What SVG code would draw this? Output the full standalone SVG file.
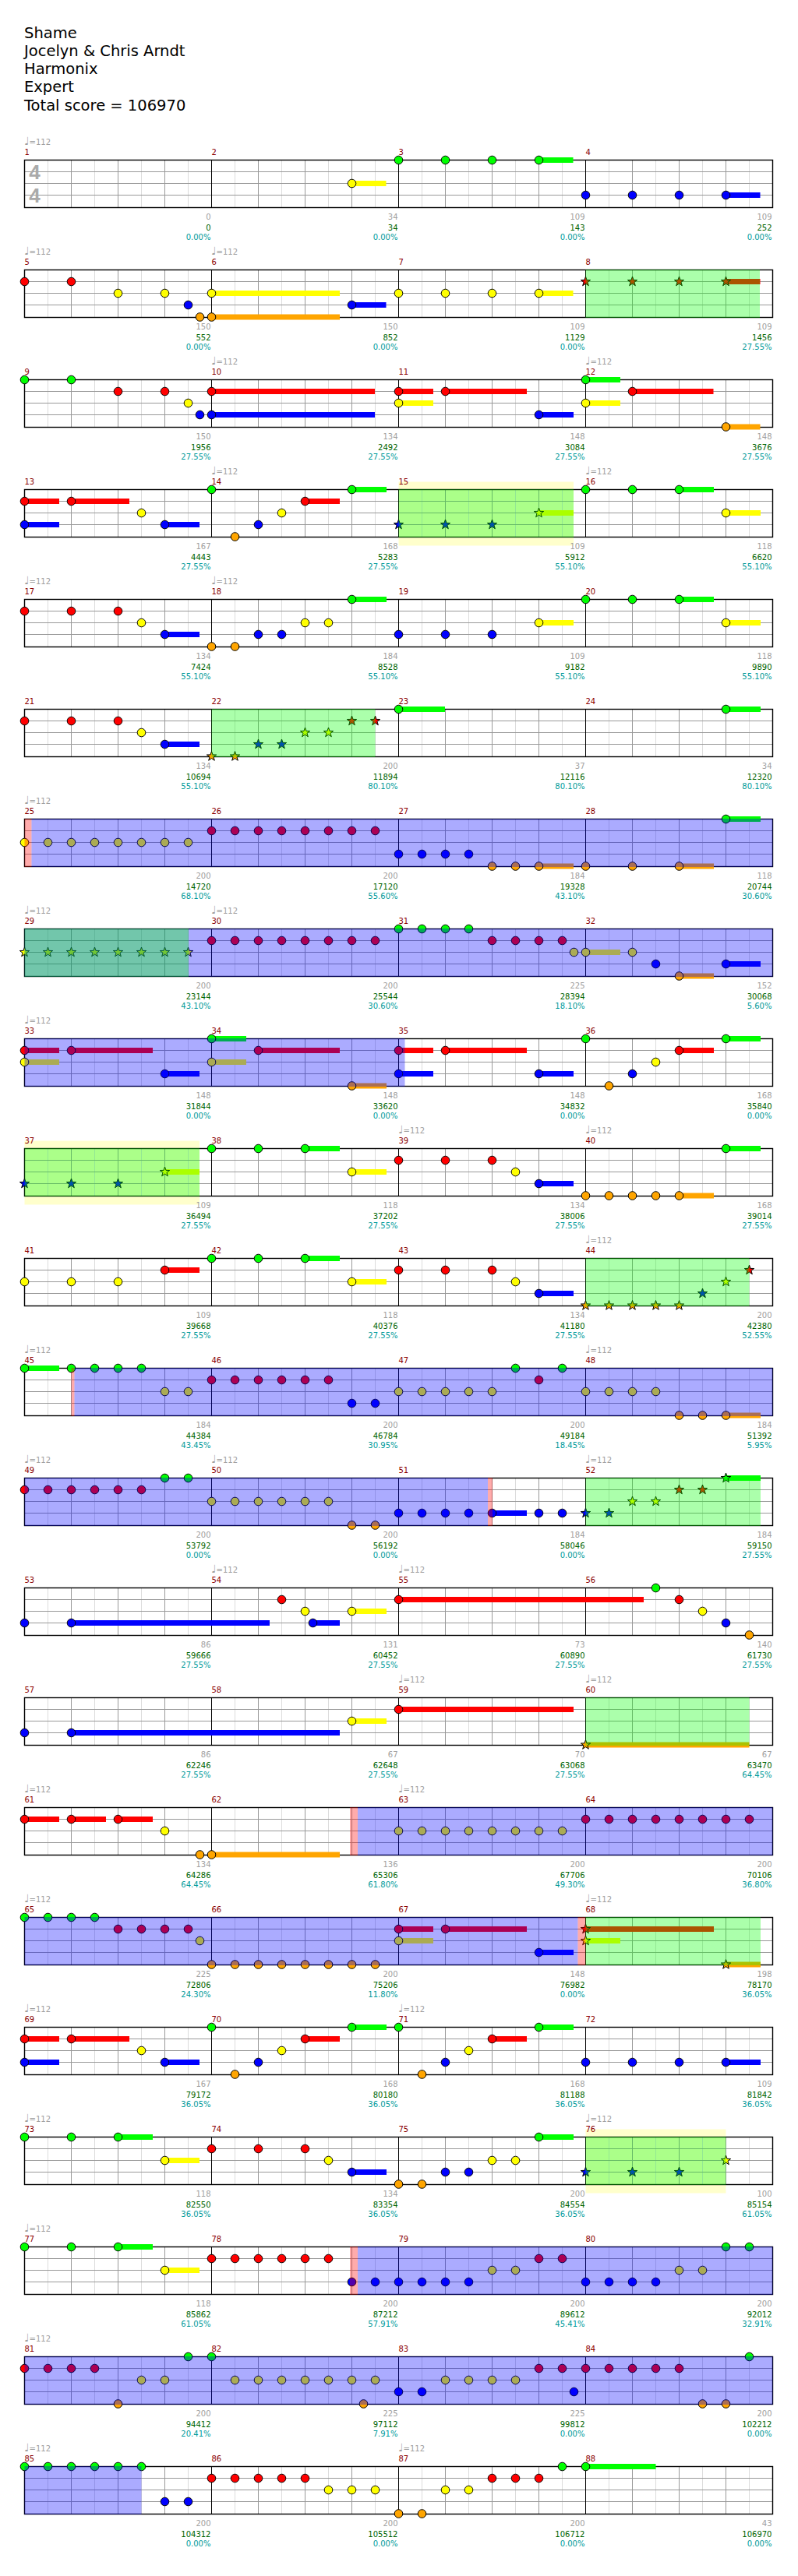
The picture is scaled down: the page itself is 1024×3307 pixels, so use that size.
<svg xmlns="http://www.w3.org/2000/svg" width="1024" height="3307" viewBox="0 0 1024 3307">
<style>
.ttl{font:19.5px "DejaVu Sans",sans-serif;fill:#000}
.mn{font:10px "DejaVu Sans",sans-serif;fill:#8b0000}
.tp{font:10px "DejaVu Sans",sans-serif;fill:#a0a0a0}
.nt{font-size:14px}
.st{font:10px "DejaVu Sans",sans-serif;text-anchor:end}
.c1{fill:#a0a0a0}.c2{fill:#006400}.c3{fill:#009a9a}
.ts{font:bold 26px "Liberation Sans",sans-serif;fill:#aaa;text-anchor:middle}
.n{stroke:#000;stroke-width:1}
.lt{stroke:#dcdcdc;stroke-width:1;fill:none}
.bt{stroke:#999;stroke-width:1;fill:none}
.ms{stroke:#000;stroke-width:1;fill:none}
.bd{stroke:#000;stroke-width:1.4;fill:none}
.bG{fill:#00ff00}.bR{fill:#ff0000}.bY{fill:#ffff00}.bB{fill:#0000ff}.bO{fill:#ffa500}
.og{fill:#00ff00;fill-opacity:.33}.ob{fill:#0000ff;fill-opacity:.33}.or{fill:#ff0000;fill-opacity:.33}.oy{fill:#ffff00;fill-opacity:.2}
</style>
<defs>
<circle id="G" class="n" r="5.3" fill="#00ff00"/>
<circle id="R" class="n" r="5.3" fill="#ff0000"/>
<circle id="Y" class="n" r="5.3" fill="#ffff00"/>
<circle id="B" class="n" r="5.3" fill="#0000ff"/>
<circle id="O" class="n" r="5.3" fill="#ffa500"/>
<path id="sG" class="n" fill="#00ff00" d="M0,-6.5L1.53,-2.1 6.18,-2.01 2.47,0.8 3.82,5.26 0,2.6 -3.82,5.26 -2.47,0.8 -6.18,-2.01 -1.53,-2.1Z"/>
<path id="sR" class="n" fill="#ff0000" d="M0,-6.5L1.53,-2.1 6.18,-2.01 2.47,0.8 3.82,5.26 0,2.6 -3.82,5.26 -2.47,0.8 -6.18,-2.01 -1.53,-2.1Z"/>
<path id="sY" class="n" fill="#ffff00" d="M0,-6.5L1.53,-2.1 6.18,-2.01 2.47,0.8 3.82,5.26 0,2.6 -3.82,5.26 -2.47,0.8 -6.18,-2.01 -1.53,-2.1Z"/>
<path id="sB" class="n" fill="#0000ff" d="M0,-6.5L1.53,-2.1 6.18,-2.01 2.47,0.8 3.82,5.26 0,2.6 -3.82,5.26 -2.47,0.8 -6.18,-2.01 -1.53,-2.1Z"/>
<path id="sO" class="n" fill="#ffa500" d="M0,-6.5L1.53,-2.1 6.18,-2.01 2.47,0.8 3.82,5.26 0,2.6 -3.82,5.26 -2.47,0.8 -6.18,-2.01 -1.53,-2.1Z"/>
<g id="grid">
<path class="lt" d="M61.5 0V61M121.5 0V61M181.5 0V61M241.5 0V61M301.5 0V61M361.5 0V61M421.5 0V61M481.5 0V61M541.5 0V61M601.5 0V61M661.5 0V61M721.5 0V61M781.5 0V61M841.5 0V61M901.5 0V61M961.5 0V61"/>
<path class="bt" d="M91.5 0V61M151.5 0V61M211.5 0V61M331.5 0V61M391.5 0V61M451.5 0V61M571.5 0V61M631.5 0V61M691.5 0V61M811.5 0V61M871.5 0V61M931.5 0V61M31.5 15H991.5M31.5 30H991.5M31.5 45H991.5"/>
<path class="ms" d="M271.5 0V61M511.5 0V61M751.5 0V61"/>
<rect class="bd" x="31.5" y="0" width="960" height="61"/>
</g>
</defs>
<rect width="1024" height="3307" fill="#fff"/>
<g id="header">
<text class="ttl" x="31" y="49">Shame</text>
<text class="ttl" x="31" y="72">Jocelyn &amp; Chris Arndt</text>
<text class="ttl" x="31" y="95">Harmonix</text>
<text class="ttl" x="31" y="118">Expert</text>
<text class="ttl" x="31" y="141.5">Total score = 106970</text>
</g>

<g id="row1" transform="translate(0,205.5)">
<use href="#grid"/>
<text class="ts" x="44.5" y="24.5">4</text><text class="ts" x="44.5" y="54.5">4</text>
<rect class="bY" x="451.5" y="26.5" width="44" height="7"/><rect class="bG" x="691.5" y="-3.5" width="44" height="7"/><rect class="bB" x="931.5" y="41.5" width="44" height="7"/>
<use href="#Y" x="451.5" y="30"/>
<use href="#G" x="511.5" y="0"/><use href="#G" x="571.5" y="0"/><use href="#G" x="631.5" y="0"/><use href="#G" x="691.5" y="0"/>
<use href="#B" x="751.5" y="45"/><use href="#B" x="811.5" y="45"/><use href="#B" x="871.5" y="45"/><use href="#B" x="931.5" y="45"/>
<text class="tp" x="31" y="-20"><tspan class="nt">♩</tspan>=112</text>
<text class="mn" x="31.5" y="-7">1</text><text class="mn" x="271.5" y="-7">2</text><text class="mn" x="511.5" y="-7">3</text><text class="mn" x="751.5" y="-7">4</text>
<text class="st" x="270.5" y="76.5"><tspan class="c1">0</tspan><tspan class="c2" x="270.5" y="90">0</tspan><tspan class="c3" x="270.5" y="102.5">0.00%</tspan></text>
<text class="st" x="510.5" y="76.5"><tspan class="c1">34</tspan><tspan class="c2" x="510.5" y="90">34</tspan><tspan class="c3" x="510.5" y="102.5">0.00%</tspan></text>
<text class="st" x="750.5" y="76.5"><tspan class="c1">109</tspan><tspan class="c2" x="750.5" y="90">143</tspan><tspan class="c3" x="750.5" y="102.5">0.00%</tspan></text>
<text class="st" x="990.5" y="76.5"><tspan class="c1">109</tspan><tspan class="c2" x="990.5" y="90">252</tspan><tspan class="c3" x="990.5" y="102.5">0.00%</tspan></text>
</g>

<g id="row2" transform="translate(0,346.5)">
<use href="#grid"/>
<rect class="bY" x="271.5" y="26.5" width="164.5" height="7"/><rect class="bO" x="271.5" y="57" width="164.5" height="7"/><rect class="bB" x="451.5" y="41.5" width="44" height="7"/><rect class="bY" x="691.5" y="26.5" width="44" height="7"/><rect class="bR" x="931.5" y="11.5" width="44" height="7"/>
<use href="#R" x="31.5" y="15"/><use href="#R" x="91.5" y="15"/><use href="#Y" x="151.5" y="30"/><use href="#Y" x="211.5" y="30"/><use href="#B" x="241.5" y="45"/><use href="#O" x="256.5" y="60.5"/>
<use href="#Y" x="271.5" y="30"/><use href="#O" x="271.5" y="60.5"/><use href="#B" x="451.5" y="45"/>
<use href="#Y" x="511.5" y="30"/><use href="#Y" x="571.5" y="30"/><use href="#Y" x="631.5" y="30"/><use href="#Y" x="691.5" y="30"/>
<use href="#sR" x="751.5" y="15"/><use href="#sR" x="811.5" y="15"/><use href="#sR" x="871.5" y="15"/><use href="#sR" x="931.5" y="15"/>
<rect class="og" x="751.5" y="-0.5" width="223.5" height="62"/>
<text class="tp" x="31" y="-20"><tspan class="nt">♩</tspan>=112</text><text class="tp" x="271" y="-20"><tspan class="nt">♩</tspan>=112</text>
<text class="mn" x="31.5" y="-7">5</text><text class="mn" x="271.5" y="-7">6</text><text class="mn" x="511.5" y="-7">7</text><text class="mn" x="751.5" y="-7">8</text>
<text class="st" x="270.5" y="76.5"><tspan class="c1">150</tspan><tspan class="c2" x="270.5" y="90">552</tspan><tspan class="c3" x="270.5" y="102.5">0.00%</tspan></text>
<text class="st" x="510.5" y="76.5"><tspan class="c1">150</tspan><tspan class="c2" x="510.5" y="90">852</tspan><tspan class="c3" x="510.5" y="102.5">0.00%</tspan></text>
<text class="st" x="750.5" y="76.5"><tspan class="c1">109</tspan><tspan class="c2" x="750.5" y="90">1129</tspan><tspan class="c3" x="750.5" y="102.5">0.00%</tspan></text>
<text class="st" x="990.5" y="76.5"><tspan class="c1">109</tspan><tspan class="c2" x="990.5" y="90">1456</tspan><tspan class="c3" x="990.5" y="102.5">27.55%</tspan></text>
</g>

<g id="row3" transform="translate(0,487.5)">
<use href="#grid"/>
<rect class="bR" x="271.5" y="11.5" width="209.5" height="7"/><rect class="bB" x="271.5" y="41.5" width="209.5" height="7"/><rect class="bR" x="511.5" y="11.5" width="44.5" height="7"/><rect class="bY" x="511.5" y="26.5" width="44.5" height="7"/><rect class="bR" x="571.5" y="11.5" width="104.5" height="7"/><rect class="bB" x="691.5" y="41.5" width="44.5" height="7"/><rect class="bG" x="751.5" y="-3.5" width="44.5" height="7"/><rect class="bY" x="751.5" y="26.5" width="44.5" height="7"/><rect class="bR" x="811.5" y="11.5" width="104" height="7"/><rect class="bO" x="931.5" y="57" width="44" height="7"/>
<use href="#G" x="31.5" y="0"/><use href="#G" x="91.5" y="0"/><use href="#R" x="151.5" y="15"/><use href="#R" x="211.5" y="15"/><use href="#Y" x="241.5" y="30"/><use href="#B" x="256.5" y="45"/>
<use href="#R" x="271.5" y="15"/><use href="#B" x="271.5" y="45"/>
<use href="#R" x="511.5" y="15"/><use href="#Y" x="511.5" y="30"/><use href="#R" x="571.5" y="15"/><use href="#B" x="691.5" y="45"/>
<use href="#G" x="751.5" y="0"/><use href="#Y" x="751.5" y="30"/><use href="#R" x="811.5" y="15"/><use href="#O" x="931.5" y="60.5"/>
<text class="tp" x="271" y="-20"><tspan class="nt">♩</tspan>=112</text><text class="tp" x="751" y="-20"><tspan class="nt">♩</tspan>=112</text>
<text class="mn" x="31.5" y="-7">9</text><text class="mn" x="271.5" y="-7">10</text><text class="mn" x="511.5" y="-7">11</text><text class="mn" x="751.5" y="-7">12</text>
<text class="st" x="270.5" y="76.5"><tspan class="c1">150</tspan><tspan class="c2" x="270.5" y="90">1956</tspan><tspan class="c3" x="270.5" y="102.5">27.55%</tspan></text>
<text class="st" x="510.5" y="76.5"><tspan class="c1">134</tspan><tspan class="c2" x="510.5" y="90">2492</tspan><tspan class="c3" x="510.5" y="102.5">27.55%</tspan></text>
<text class="st" x="750.5" y="76.5"><tspan class="c1">148</tspan><tspan class="c2" x="750.5" y="90">3084</tspan><tspan class="c3" x="750.5" y="102.5">27.55%</tspan></text>
<text class="st" x="990.5" y="76.5"><tspan class="c1">148</tspan><tspan class="c2" x="990.5" y="90">3676</tspan><tspan class="c3" x="990.5" y="102.5">27.55%</tspan></text>
</g>

<g id="row4" transform="translate(0,628.5)">
<rect class="oy" x="511.5" y="-10" width="224.5" height="82"/>
<use href="#grid"/>
<rect class="bR" x="31.5" y="11.5" width="44.5" height="7"/><rect class="bB" x="31.5" y="41.5" width="44.5" height="7"/><rect class="bR" x="91.5" y="11.5" width="74.5" height="7"/><rect class="bB" x="211.5" y="41.5" width="44.5" height="7"/><rect class="bR" x="391.5" y="11.5" width="44.5" height="7"/><rect class="bG" x="451.5" y="-3.5" width="44.5" height="7"/><rect class="bY" x="691.5" y="26.5" width="44.5" height="7"/><rect class="bG" x="871.5" y="-3.5" width="44.5" height="7"/><rect class="bY" x="931.5" y="26.5" width="44.5" height="7"/>
<use href="#R" x="31.5" y="15"/><use href="#B" x="31.5" y="45"/><use href="#R" x="91.5" y="15"/><use href="#Y" x="181.5" y="30"/><use href="#B" x="211.5" y="45"/>
<use href="#G" x="271.5" y="0"/><use href="#O" x="301.5" y="60.5"/><use href="#B" x="331.5" y="45"/><use href="#Y" x="361.5" y="30"/><use href="#R" x="391.5" y="15"/><use href="#G" x="451.5" y="0"/>
<use href="#sB" x="511.5" y="45"/><use href="#sB" x="571.5" y="45"/><use href="#sB" x="631.5" y="45"/><use href="#sY" x="691.5" y="30"/>
<use href="#G" x="751.5" y="0"/><use href="#G" x="811.5" y="0"/><use href="#G" x="871.5" y="0"/><use href="#Y" x="931.5" y="30"/>
<rect class="og" x="511.5" y="-0.5" width="224.5" height="62"/>
<text class="tp" x="271" y="-20"><tspan class="nt">♩</tspan>=112</text><text class="tp" x="751" y="-20"><tspan class="nt">♩</tspan>=112</text>
<text class="mn" x="31.5" y="-7">13</text><text class="mn" x="271.5" y="-7">14</text><text class="mn" x="511.5" y="-7">15</text><text class="mn" x="751.5" y="-7">16</text>
<text class="st" x="270.5" y="76.5"><tspan class="c1">167</tspan><tspan class="c2" x="270.5" y="90">4443</tspan><tspan class="c3" x="270.5" y="102.5">27.55%</tspan></text>
<text class="st" x="510.5" y="76.5"><tspan class="c1">168</tspan><tspan class="c2" x="510.5" y="90">5283</tspan><tspan class="c3" x="510.5" y="102.5">27.55%</tspan></text>
<text class="st" x="750.5" y="76.5"><tspan class="c1">109</tspan><tspan class="c2" x="750.5" y="90">5912</tspan><tspan class="c3" x="750.5" y="102.5">55.10%</tspan></text>
<text class="st" x="990.5" y="76.5"><tspan class="c1">118</tspan><tspan class="c2" x="990.5" y="90">6620</tspan><tspan class="c3" x="990.5" y="102.5">55.10%</tspan></text>
</g>

<g id="row5" transform="translate(0,769.5)">
<use href="#grid"/>
<rect class="bB" x="211.5" y="41.5" width="44.5" height="7"/><rect class="bG" x="451.5" y="-3.5" width="44.5" height="7"/><rect class="bY" x="691.5" y="26.5" width="44.5" height="7"/><rect class="bG" x="871.5" y="-3.5" width="44.5" height="7"/><rect class="bY" x="931.5" y="26.5" width="44.5" height="7"/>
<use href="#R" x="31.5" y="15"/><use href="#R" x="91.5" y="15"/><use href="#R" x="151.5" y="15"/><use href="#Y" x="181.5" y="30"/><use href="#B" x="211.5" y="45"/>
<use href="#O" x="271.5" y="60.5"/><use href="#O" x="301.5" y="60.5"/><use href="#B" x="331.5" y="45"/><use href="#B" x="361.5" y="45"/><use href="#Y" x="391.5" y="30"/><use href="#Y" x="421.5" y="30"/><use href="#G" x="451.5" y="0"/>
<use href="#B" x="511.5" y="45"/><use href="#B" x="571.5" y="45"/><use href="#B" x="631.5" y="45"/><use href="#Y" x="691.5" y="30"/>
<use href="#G" x="751.5" y="0"/><use href="#G" x="811.5" y="0"/><use href="#G" x="871.5" y="0"/><use href="#Y" x="931.5" y="30"/>
<text class="tp" x="31" y="-20"><tspan class="nt">♩</tspan>=112</text><text class="tp" x="271" y="-20"><tspan class="nt">♩</tspan>=112</text>
<text class="mn" x="31.5" y="-7">17</text><text class="mn" x="271.5" y="-7">18</text><text class="mn" x="511.5" y="-7">19</text><text class="mn" x="751.5" y="-7">20</text>
<text class="st" x="270.5" y="76.5"><tspan class="c1">134</tspan><tspan class="c2" x="270.5" y="90">7424</tspan><tspan class="c3" x="270.5" y="102.5">55.10%</tspan></text>
<text class="st" x="510.5" y="76.5"><tspan class="c1">184</tspan><tspan class="c2" x="510.5" y="90">8528</tspan><tspan class="c3" x="510.5" y="102.5">55.10%</tspan></text>
<text class="st" x="750.5" y="76.5"><tspan class="c1">109</tspan><tspan class="c2" x="750.5" y="90">9182</tspan><tspan class="c3" x="750.5" y="102.5">55.10%</tspan></text>
<text class="st" x="990.5" y="76.5"><tspan class="c1">118</tspan><tspan class="c2" x="990.5" y="90">9890</tspan><tspan class="c3" x="990.5" y="102.5">55.10%</tspan></text>
</g>

<g id="row6" transform="translate(0,910.5)">
<use href="#grid"/>
<rect class="bB" x="211.5" y="41.5" width="44.5" height="7"/><rect class="bG" x="511.5" y="-3.5" width="59.5" height="7"/><rect class="bG" x="931.5" y="-3.5" width="44.5" height="7"/>
<use href="#R" x="31.5" y="15"/><use href="#R" x="91.5" y="15"/><use href="#R" x="151.5" y="15"/><use href="#Y" x="181.5" y="30"/><use href="#B" x="211.5" y="45"/>
<use href="#sO" x="271.5" y="60.5"/><use href="#sO" x="301.5" y="60.5"/><use href="#sB" x="331.5" y="45"/><use href="#sB" x="361.5" y="45"/><use href="#sY" x="391.5" y="30"/><use href="#sY" x="421.5" y="30"/><use href="#sR" x="451.5" y="15"/><use href="#sR" x="481.5" y="15"/>
<use href="#G" x="511.5" y="0"/><use href="#G" x="931.5" y="0"/>
<rect class="og" x="271.5" y="-0.5" width="210" height="62"/>
<text class="mn" x="31.5" y="-7">21</text><text class="mn" x="271.5" y="-7">22</text><text class="mn" x="511.5" y="-7">23</text><text class="mn" x="751.5" y="-7">24</text>
<text class="st" x="270.5" y="76.5"><tspan class="c1">134</tspan><tspan class="c2" x="270.5" y="90">10694</tspan><tspan class="c3" x="270.5" y="102.5">55.10%</tspan></text>
<text class="st" x="510.5" y="76.5"><tspan class="c1">200</tspan><tspan class="c2" x="510.5" y="90">11894</tspan><tspan class="c3" x="510.5" y="102.5">80.10%</tspan></text>
<text class="st" x="750.5" y="76.5"><tspan class="c1">37</tspan><tspan class="c2" x="750.5" y="90">12116</tspan><tspan class="c3" x="750.5" y="102.5">80.10%</tspan></text>
<text class="st" x="990.5" y="76.5"><tspan class="c1">34</tspan><tspan class="c2" x="990.5" y="90">12320</tspan><tspan class="c3" x="990.5" y="102.5">80.10%</tspan></text>
</g>

<g id="row7" transform="translate(0,1051.5)">
<use href="#grid"/>
<rect class="bO" x="691.5" y="57" width="44.5" height="7"/><rect class="bO" x="871.5" y="57" width="44.5" height="7"/><rect class="bG" x="931.5" y="-3.5" width="44.5" height="7"/>
<use href="#Y" x="31.5" y="30"/><use href="#Y" x="61.5" y="30"/><use href="#Y" x="91.5" y="30"/><use href="#Y" x="121.5" y="30"/><use href="#Y" x="151.5" y="30"/><use href="#Y" x="181.5" y="30"/><use href="#Y" x="211.5" y="30"/><use href="#Y" x="241.5" y="30"/>
<use href="#R" x="271.5" y="15"/><use href="#R" x="301.5" y="15"/><use href="#R" x="331.5" y="15"/><use href="#R" x="361.5" y="15"/><use href="#R" x="391.5" y="15"/><use href="#R" x="421.5" y="15"/><use href="#R" x="451.5" y="15"/><use href="#R" x="481.5" y="15"/>
<use href="#B" x="511.5" y="45"/><use href="#B" x="541.5" y="45"/><use href="#B" x="571.5" y="45"/><use href="#B" x="601.5" y="45"/><use href="#O" x="631.5" y="60.5"/><use href="#O" x="661.5" y="60.5"/><use href="#O" x="691.5" y="60.5"/>
<use href="#O" x="751.5" y="60.5"/><use href="#O" x="811.5" y="60.5"/><use href="#O" x="871.5" y="60.5"/><use href="#G" x="931.5" y="0"/>
<rect class="or" x="31.5" y="-0.5" width="9" height="62"/><rect class="ob" x="40.5" y="-0.5" width="951" height="62"/>
<text class="tp" x="31" y="-20"><tspan class="nt">♩</tspan>=112</text>
<text class="mn" x="31.5" y="-7">25</text><text class="mn" x="271.5" y="-7">26</text><text class="mn" x="511.5" y="-7">27</text><text class="mn" x="751.5" y="-7">28</text>
<text class="st" x="270.5" y="76.5"><tspan class="c1">200</tspan><tspan class="c2" x="270.5" y="90">14720</tspan><tspan class="c3" x="270.5" y="102.5">68.10%</tspan></text>
<text class="st" x="510.5" y="76.5"><tspan class="c1">200</tspan><tspan class="c2" x="510.5" y="90">17120</tspan><tspan class="c3" x="510.5" y="102.5">55.60%</tspan></text>
<text class="st" x="750.5" y="76.5"><tspan class="c1">184</tspan><tspan class="c2" x="750.5" y="90">19328</tspan><tspan class="c3" x="750.5" y="102.5">43.10%</tspan></text>
<text class="st" x="990.5" y="76.5"><tspan class="c1">118</tspan><tspan class="c2" x="990.5" y="90">20744</tspan><tspan class="c3" x="990.5" y="102.5">30.60%</tspan></text>
</g>

<g id="row8" transform="translate(0,1192.5)">
<use href="#grid"/>
<rect class="bY" x="751.5" y="26.5" width="44.5" height="7"/><rect class="bO" x="871.5" y="57" width="44.5" height="7"/><rect class="bB" x="931.5" y="41.5" width="44.5" height="7"/>
<use href="#sY" x="31.5" y="30"/><use href="#sY" x="61.5" y="30"/><use href="#sY" x="91.5" y="30"/><use href="#sY" x="121.5" y="30"/><use href="#sY" x="151.5" y="30"/><use href="#sY" x="181.5" y="30"/><use href="#sY" x="211.5" y="30"/><use href="#sY" x="241.5" y="30"/>
<use href="#R" x="271.5" y="15"/><use href="#R" x="301.5" y="15"/><use href="#R" x="331.5" y="15"/><use href="#R" x="361.5" y="15"/><use href="#R" x="391.5" y="15"/><use href="#R" x="421.5" y="15"/><use href="#R" x="451.5" y="15"/><use href="#R" x="481.5" y="15"/>
<use href="#G" x="511.5" y="0"/><use href="#G" x="541.5" y="0"/><use href="#G" x="571.5" y="0"/><use href="#G" x="601.5" y="0"/><use href="#R" x="631.5" y="15"/><use href="#R" x="661.5" y="15"/><use href="#R" x="691.5" y="15"/><use href="#R" x="721.5" y="15"/><use href="#Y" x="736.5" y="30"/>
<use href="#Y" x="751.5" y="30"/><use href="#Y" x="811.5" y="30"/><use href="#B" x="841.5" y="45"/><use href="#O" x="871.5" y="60.5"/><use href="#B" x="931.5" y="45"/>
<rect class="ob" x="31.5" y="-0.5" width="960" height="62"/><rect class="og" x="31.5" y="-0.5" width="210.5" height="62"/>
<text class="tp" x="31" y="-20"><tspan class="nt">♩</tspan>=112</text><text class="tp" x="271" y="-20"><tspan class="nt">♩</tspan>=112</text>
<text class="mn" x="31.5" y="-7">29</text><text class="mn" x="271.5" y="-7">30</text><text class="mn" x="511.5" y="-7">31</text><text class="mn" x="751.5" y="-7">32</text>
<text class="st" x="270.5" y="76.5"><tspan class="c1">200</tspan><tspan class="c2" x="270.5" y="90">23144</tspan><tspan class="c3" x="270.5" y="102.5">43.10%</tspan></text>
<text class="st" x="510.5" y="76.5"><tspan class="c1">200</tspan><tspan class="c2" x="510.5" y="90">25544</tspan><tspan class="c3" x="510.5" y="102.5">30.60%</tspan></text>
<text class="st" x="750.5" y="76.5"><tspan class="c1">225</tspan><tspan class="c2" x="750.5" y="90">28394</tspan><tspan class="c3" x="750.5" y="102.5">18.10%</tspan></text>
<text class="st" x="990.5" y="76.5"><tspan class="c1">152</tspan><tspan class="c2" x="990.5" y="90">30068</tspan><tspan class="c3" x="990.5" y="102.5">5.60%</tspan></text>
</g>

<g id="row9" transform="translate(0,1333.5)">
<use href="#grid"/>
<rect class="bR" x="31.5" y="11.5" width="44.5" height="7"/><rect class="bY" x="31.5" y="26.5" width="44.5" height="7"/><rect class="bR" x="91.5" y="11.5" width="104.5" height="7"/><rect class="bB" x="211.5" y="41.5" width="44.5" height="7"/><rect class="bG" x="271.5" y="-3.5" width="44.5" height="7"/><rect class="bY" x="271.5" y="26.5" width="44.5" height="7"/><rect class="bR" x="331.5" y="11.5" width="104.5" height="7"/><rect class="bO" x="451.5" y="57" width="44.5" height="7"/><rect class="bR" x="511.5" y="11.5" width="44.5" height="7"/><rect class="bB" x="511.5" y="41.5" width="44.5" height="7"/><rect class="bR" x="571.5" y="11.5" width="104.5" height="7"/><rect class="bB" x="691.5" y="41.5" width="44.5" height="7"/><rect class="bR" x="871.5" y="11.5" width="44.5" height="7"/><rect class="bG" x="931.5" y="-3.5" width="44.5" height="7"/>
<use href="#R" x="31.5" y="15"/><use href="#Y" x="31.5" y="30"/><use href="#R" x="91.5" y="15"/><use href="#B" x="211.5" y="45"/>
<use href="#G" x="271.5" y="0"/><use href="#Y" x="271.5" y="30"/><use href="#R" x="331.5" y="15"/><use href="#O" x="451.5" y="60.5"/>
<use href="#R" x="511.5" y="15"/><use href="#B" x="511.5" y="45"/><use href="#R" x="571.5" y="15"/><use href="#B" x="691.5" y="45"/>
<use href="#G" x="751.5" y="0"/><use href="#O" x="781.5" y="60.5"/><use href="#B" x="811.5" y="45"/><use href="#Y" x="841.5" y="30"/><use href="#R" x="871.5" y="15"/><use href="#G" x="931.5" y="0"/>
<rect class="ob" x="31.5" y="-0.5" width="488" height="62"/>
<text class="tp" x="31" y="-20"><tspan class="nt">♩</tspan>=112</text>
<text class="mn" x="31.5" y="-7">33</text><text class="mn" x="271.5" y="-7">34</text><text class="mn" x="511.5" y="-7">35</text><text class="mn" x="751.5" y="-7">36</text>
<text class="st" x="270.5" y="76.5"><tspan class="c1">148</tspan><tspan class="c2" x="270.5" y="90">31844</tspan><tspan class="c3" x="270.5" y="102.5">0.00%</tspan></text>
<text class="st" x="510.5" y="76.5"><tspan class="c1">148</tspan><tspan class="c2" x="510.5" y="90">33620</tspan><tspan class="c3" x="510.5" y="102.5">0.00%</tspan></text>
<text class="st" x="750.5" y="76.5"><tspan class="c1">148</tspan><tspan class="c2" x="750.5" y="90">34832</tspan><tspan class="c3" x="750.5" y="102.5">0.00%</tspan></text>
<text class="st" x="990.5" y="76.5"><tspan class="c1">168</tspan><tspan class="c2" x="990.5" y="90">35840</tspan><tspan class="c3" x="990.5" y="102.5">0.00%</tspan></text>
</g>

<g id="row10" transform="translate(0,1474.5)">
<rect class="oy" x="31.5" y="-10" width="224.5" height="82"/>
<use href="#grid"/>
<rect class="bY" x="211.5" y="26.5" width="44.5" height="7"/><rect class="bG" x="391.5" y="-3.5" width="44.5" height="7"/><rect class="bY" x="451.5" y="26.5" width="44.5" height="7"/><rect class="bB" x="691.5" y="41.5" width="44.5" height="7"/><rect class="bO" x="871.5" y="57" width="44.5" height="7"/><rect class="bG" x="931.5" y="-3.5" width="44.5" height="7"/>
<use href="#sB" x="31.5" y="45"/><use href="#sB" x="91.5" y="45"/><use href="#sB" x="151.5" y="45"/><use href="#sY" x="211.5" y="30"/>
<use href="#G" x="271.5" y="0"/><use href="#G" x="331.5" y="0"/><use href="#G" x="391.5" y="0"/><use href="#Y" x="451.5" y="30"/>
<use href="#R" x="511.5" y="15"/><use href="#R" x="571.5" y="15"/><use href="#R" x="631.5" y="15"/><use href="#Y" x="661.5" y="30"/><use href="#B" x="691.5" y="45"/>
<use href="#O" x="751.5" y="60.5"/><use href="#O" x="781.5" y="60.5"/><use href="#O" x="811.5" y="60.5"/><use href="#O" x="841.5" y="60.5"/><use href="#O" x="871.5" y="60.5"/><use href="#G" x="931.5" y="0"/>
<rect class="og" x="31.5" y="-0.5" width="224.5" height="62"/>
<text class="tp" x="511" y="-20"><tspan class="nt">♩</tspan>=112</text><text class="tp" x="751" y="-20"><tspan class="nt">♩</tspan>=112</text>
<text class="mn" x="31.5" y="-7">37</text><text class="mn" x="271.5" y="-7">38</text><text class="mn" x="511.5" y="-7">39</text><text class="mn" x="751.5" y="-7">40</text>
<text class="st" x="270.5" y="76.5"><tspan class="c1">109</tspan><tspan class="c2" x="270.5" y="90">36494</tspan><tspan class="c3" x="270.5" y="102.5">27.55%</tspan></text>
<text class="st" x="510.5" y="76.5"><tspan class="c1">118</tspan><tspan class="c2" x="510.5" y="90">37202</tspan><tspan class="c3" x="510.5" y="102.5">27.55%</tspan></text>
<text class="st" x="750.5" y="76.5"><tspan class="c1">134</tspan><tspan class="c2" x="750.5" y="90">38006</tspan><tspan class="c3" x="750.5" y="102.5">27.55%</tspan></text>
<text class="st" x="990.5" y="76.5"><tspan class="c1">168</tspan><tspan class="c2" x="990.5" y="90">39014</tspan><tspan class="c3" x="990.5" y="102.5">27.55%</tspan></text>
</g>

<g id="row11" transform="translate(0,1615.5)">
<use href="#grid"/>
<rect class="bR" x="211.5" y="11.5" width="44.5" height="7"/><rect class="bG" x="391.5" y="-3.5" width="44.5" height="7"/><rect class="bY" x="451.5" y="26.5" width="44.5" height="7"/><rect class="bB" x="691.5" y="41.5" width="44.5" height="7"/>
<use href="#Y" x="31.5" y="30"/><use href="#Y" x="91.5" y="30"/><use href="#Y" x="151.5" y="30"/><use href="#R" x="211.5" y="15"/>
<use href="#G" x="271.5" y="0"/><use href="#G" x="331.5" y="0"/><use href="#G" x="391.5" y="0"/><use href="#Y" x="451.5" y="30"/>
<use href="#R" x="511.5" y="15"/><use href="#R" x="571.5" y="15"/><use href="#R" x="631.5" y="15"/><use href="#Y" x="661.5" y="30"/><use href="#B" x="691.5" y="45"/>
<use href="#sO" x="751.5" y="60.5"/><use href="#sO" x="781.5" y="60.5"/><use href="#sO" x="811.5" y="60.5"/><use href="#sO" x="841.5" y="60.5"/><use href="#sO" x="871.5" y="60.5"/><use href="#sB" x="901.5" y="45"/><use href="#sY" x="931.5" y="30"/><use href="#sR" x="961.5" y="15"/>
<rect class="og" x="751.5" y="-0.5" width="210" height="62"/>
<text class="tp" x="751" y="-20"><tspan class="nt">♩</tspan>=112</text>
<text class="mn" x="31.5" y="-7">41</text><text class="mn" x="271.5" y="-7">42</text><text class="mn" x="511.5" y="-7">43</text><text class="mn" x="751.5" y="-7">44</text>
<text class="st" x="270.5" y="76.5"><tspan class="c1">109</tspan><tspan class="c2" x="270.5" y="90">39668</tspan><tspan class="c3" x="270.5" y="102.5">27.55%</tspan></text>
<text class="st" x="510.5" y="76.5"><tspan class="c1">118</tspan><tspan class="c2" x="510.5" y="90">40376</tspan><tspan class="c3" x="510.5" y="102.5">27.55%</tspan></text>
<text class="st" x="750.5" y="76.5"><tspan class="c1">134</tspan><tspan class="c2" x="750.5" y="90">41180</tspan><tspan class="c3" x="750.5" y="102.5">27.55%</tspan></text>
<text class="st" x="990.5" y="76.5"><tspan class="c1">200</tspan><tspan class="c2" x="990.5" y="90">42380</tspan><tspan class="c3" x="990.5" y="102.5">52.55%</tspan></text>
</g>

<g id="row12" transform="translate(0,1756.5)">
<use href="#grid"/>
<rect class="bG" x="31.5" y="-3.5" width="44.5" height="7"/><rect class="bO" x="931.5" y="57" width="44.5" height="7"/>
<use href="#G" x="31.5" y="0"/><use href="#G" x="91.5" y="0"/><use href="#G" x="121.5" y="0"/><use href="#G" x="151.5" y="0"/><use href="#G" x="181.5" y="0"/><use href="#Y" x="211.5" y="30"/><use href="#Y" x="241.5" y="30"/>
<use href="#R" x="271.5" y="15"/><use href="#R" x="301.5" y="15"/><use href="#R" x="331.5" y="15"/><use href="#R" x="361.5" y="15"/><use href="#R" x="391.5" y="15"/><use href="#R" x="421.5" y="15"/><use href="#B" x="451.5" y="45"/><use href="#B" x="481.5" y="45"/>
<use href="#Y" x="511.5" y="30"/><use href="#Y" x="541.5" y="30"/><use href="#Y" x="571.5" y="30"/><use href="#Y" x="601.5" y="30"/><use href="#Y" x="631.5" y="30"/><use href="#G" x="661.5" y="0"/><use href="#R" x="691.5" y="15"/><use href="#G" x="721.5" y="0"/>
<use href="#Y" x="751.5" y="30"/><use href="#Y" x="781.5" y="30"/><use href="#Y" x="811.5" y="30"/><use href="#Y" x="841.5" y="30"/><use href="#O" x="871.5" y="60.5"/><use href="#O" x="901.5" y="60.5"/><use href="#O" x="931.5" y="60.5"/>
<rect class="or" x="91.5" y="-0.5" width="4" height="62"/><rect class="ob" x="95.5" y="-0.5" width="896" height="62"/>
<text class="tp" x="31" y="-20"><tspan class="nt">♩</tspan>=112</text><text class="tp" x="751" y="-20"><tspan class="nt">♩</tspan>=112</text>
<text class="mn" x="31.5" y="-7">45</text><text class="mn" x="271.5" y="-7">46</text><text class="mn" x="511.5" y="-7">47</text><text class="mn" x="751.5" y="-7">48</text>
<text class="st" x="270.5" y="76.5"><tspan class="c1">184</tspan><tspan class="c2" x="270.5" y="90">44384</tspan><tspan class="c3" x="270.5" y="102.5">43.45%</tspan></text>
<text class="st" x="510.5" y="76.5"><tspan class="c1">200</tspan><tspan class="c2" x="510.5" y="90">46784</tspan><tspan class="c3" x="510.5" y="102.5">30.95%</tspan></text>
<text class="st" x="750.5" y="76.5"><tspan class="c1">200</tspan><tspan class="c2" x="750.5" y="90">49184</tspan><tspan class="c3" x="750.5" y="102.5">18.45%</tspan></text>
<text class="st" x="990.5" y="76.5"><tspan class="c1">184</tspan><tspan class="c2" x="990.5" y="90">51392</tspan><tspan class="c3" x="990.5" y="102.5">5.95%</tspan></text>
</g>

<g id="row13" transform="translate(0,1897.5)">
<use href="#grid"/>
<rect class="bB" x="631.5" y="41.5" width="44.5" height="7"/><rect class="bG" x="931.5" y="-3.5" width="44.5" height="7"/>
<use href="#R" x="31.5" y="15"/><use href="#R" x="61.5" y="15"/><use href="#R" x="91.5" y="15"/><use href="#R" x="121.5" y="15"/><use href="#R" x="151.5" y="15"/><use href="#R" x="181.5" y="15"/><use href="#G" x="211.5" y="0"/><use href="#G" x="241.5" y="0"/>
<use href="#Y" x="271.5" y="30"/><use href="#Y" x="301.5" y="30"/><use href="#Y" x="331.5" y="30"/><use href="#Y" x="361.5" y="30"/><use href="#Y" x="391.5" y="30"/><use href="#Y" x="421.5" y="30"/><use href="#O" x="451.5" y="60.5"/><use href="#O" x="481.5" y="60.5"/>
<use href="#B" x="511.5" y="45"/><use href="#B" x="541.5" y="45"/><use href="#B" x="571.5" y="45"/><use href="#B" x="601.5" y="45"/><use href="#B" x="631.5" y="45"/><use href="#B" x="691.5" y="45"/><use href="#B" x="721.5" y="45"/>
<use href="#sB" x="751.5" y="45"/><use href="#sB" x="781.5" y="45"/><use href="#sY" x="811.5" y="30"/><use href="#sY" x="841.5" y="30"/><use href="#sR" x="871.5" y="15"/><use href="#sR" x="901.5" y="15"/><use href="#sG" x="931.5" y="0"/>
<rect class="ob" x="31.5" y="-0.5" width="594.5" height="62"/><rect class="or" x="626" y="-0.5" width="6" height="62"/><rect class="og" x="751.5" y="-0.5" width="224.5" height="62"/>
<text class="tp" x="31" y="-20"><tspan class="nt">♩</tspan>=112</text><text class="tp" x="271" y="-20"><tspan class="nt">♩</tspan>=112</text><text class="tp" x="751" y="-20"><tspan class="nt">♩</tspan>=112</text>
<text class="mn" x="31.5" y="-7">49</text><text class="mn" x="271.5" y="-7">50</text><text class="mn" x="511.5" y="-7">51</text><text class="mn" x="751.5" y="-7">52</text>
<text class="st" x="270.5" y="76.5"><tspan class="c1">200</tspan><tspan class="c2" x="270.5" y="90">53792</tspan><tspan class="c3" x="270.5" y="102.5">0.00%</tspan></text>
<text class="st" x="510.5" y="76.5"><tspan class="c1">200</tspan><tspan class="c2" x="510.5" y="90">56192</tspan><tspan class="c3" x="510.5" y="102.5">0.00%</tspan></text>
<text class="st" x="750.5" y="76.5"><tspan class="c1">184</tspan><tspan class="c2" x="750.5" y="90">58046</tspan><tspan class="c3" x="750.5" y="102.5">0.00%</tspan></text>
<text class="st" x="990.5" y="76.5"><tspan class="c1">184</tspan><tspan class="c2" x="990.5" y="90">59150</tspan><tspan class="c3" x="990.5" y="102.5">27.55%</tspan></text>
</g>

<g id="row14" transform="translate(0,2038.5)">
<use href="#grid"/>
<rect class="bB" x="91.5" y="41.5" width="254.5" height="7"/><rect class="bB" x="401.5" y="41.5" width="34.5" height="7"/><rect class="bY" x="451.5" y="26.5" width="44.5" height="7"/><rect class="bR" x="511.5" y="11.5" width="314.5" height="7"/>
<use href="#B" x="31.5" y="45"/><use href="#B" x="91.5" y="45"/>
<use href="#R" x="361.5" y="15"/><use href="#Y" x="391.5" y="30"/><use href="#B" x="401.5" y="45"/><use href="#Y" x="451.5" y="30"/>
<use href="#R" x="511.5" y="15"/>
<use href="#G" x="841.5" y="0"/><use href="#R" x="871.5" y="15"/><use href="#Y" x="901.5" y="30"/><use href="#B" x="931.5" y="45"/><use href="#O" x="961.5" y="60.5"/>
<text class="tp" x="271" y="-20"><tspan class="nt">♩</tspan>=112</text><text class="tp" x="511" y="-20"><tspan class="nt">♩</tspan>=112</text>
<text class="mn" x="31.5" y="-7">53</text><text class="mn" x="271.5" y="-7">54</text><text class="mn" x="511.5" y="-7">55</text><text class="mn" x="751.5" y="-7">56</text>
<text class="st" x="270.5" y="76.5"><tspan class="c1">86</tspan><tspan class="c2" x="270.5" y="90">59666</tspan><tspan class="c3" x="270.5" y="102.5">27.55%</tspan></text>
<text class="st" x="510.5" y="76.5"><tspan class="c1">131</tspan><tspan class="c2" x="510.5" y="90">60452</tspan><tspan class="c3" x="510.5" y="102.5">27.55%</tspan></text>
<text class="st" x="750.5" y="76.5"><tspan class="c1">73</tspan><tspan class="c2" x="750.5" y="90">60890</tspan><tspan class="c3" x="750.5" y="102.5">27.55%</tspan></text>
<text class="st" x="990.5" y="76.5"><tspan class="c1">140</tspan><tspan class="c2" x="990.5" y="90">61730</tspan><tspan class="c3" x="990.5" y="102.5">27.55%</tspan></text>
</g>

<g id="row15" transform="translate(0,2179.5)">
<use href="#grid"/>
<rect class="bB" x="91.5" y="41.5" width="344.5" height="7"/><rect class="bY" x="451.5" y="26.5" width="44.5" height="7"/><rect class="bR" x="511.5" y="11.5" width="224.5" height="7"/><rect class="bO" x="751.5" y="57" width="210" height="7"/>
<use href="#B" x="31.5" y="45"/><use href="#B" x="91.5" y="45"/><use href="#Y" x="451.5" y="30"/><use href="#R" x="511.5" y="15"/><use href="#sO" x="751.5" y="60.5"/>
<rect class="og" x="751.5" y="-0.5" width="210" height="62"/>
<text class="tp" x="511" y="-20"><tspan class="nt">♩</tspan>=112</text><text class="tp" x="751" y="-20"><tspan class="nt">♩</tspan>=112</text>
<text class="mn" x="31.5" y="-7">57</text><text class="mn" x="271.5" y="-7">58</text><text class="mn" x="511.5" y="-7">59</text><text class="mn" x="751.5" y="-7">60</text>
<text class="st" x="270.5" y="76.5"><tspan class="c1">86</tspan><tspan class="c2" x="270.5" y="90">62246</tspan><tspan class="c3" x="270.5" y="102.5">27.55%</tspan></text>
<text class="st" x="510.5" y="76.5"><tspan class="c1">67</tspan><tspan class="c2" x="510.5" y="90">62648</tspan><tspan class="c3" x="510.5" y="102.5">27.55%</tspan></text>
<text class="st" x="750.5" y="76.5"><tspan class="c1">70</tspan><tspan class="c2" x="750.5" y="90">63068</tspan><tspan class="c3" x="750.5" y="102.5">27.55%</tspan></text>
<text class="st" x="990.5" y="76.5"><tspan class="c1">67</tspan><tspan class="c2" x="990.5" y="90">63470</tspan><tspan class="c3" x="990.5" y="102.5">64.45%</tspan></text>
</g>

<g id="row16" transform="translate(0,2320.5)">
<use href="#grid"/>
<rect class="bR" x="31.5" y="11.5" width="44.5" height="7"/><rect class="bR" x="91.5" y="11.5" width="44.5" height="7"/><rect class="bR" x="151.5" y="11.5" width="44.5" height="7"/><rect class="bO" x="271.5" y="57" width="164.5" height="7"/>
<use href="#R" x="31.5" y="15"/><use href="#R" x="91.5" y="15"/><use href="#R" x="151.5" y="15"/><use href="#Y" x="211.5" y="30"/><use href="#O" x="256.5" y="60.5"/><use href="#O" x="271.5" y="60.5"/>
<use href="#Y" x="511.5" y="30"/><use href="#Y" x="541.5" y="30"/><use href="#Y" x="571.5" y="30"/><use href="#Y" x="601.5" y="30"/><use href="#Y" x="631.5" y="30"/><use href="#Y" x="661.5" y="30"/><use href="#Y" x="691.5" y="30"/><use href="#Y" x="721.5" y="30"/>
<use href="#R" x="751.5" y="15"/><use href="#R" x="781.5" y="15"/><use href="#R" x="811.5" y="15"/><use href="#R" x="841.5" y="15"/><use href="#R" x="871.5" y="15"/><use href="#R" x="901.5" y="15"/><use href="#R" x="931.5" y="15"/><use href="#R" x="961.5" y="15"/>
<rect class="or" x="449" y="-0.5" width="10" height="62"/><rect class="ob" x="459" y="-0.5" width="532.5" height="62"/>
<text class="tp" x="31" y="-20"><tspan class="nt">♩</tspan>=112</text><text class="tp" x="511" y="-20"><tspan class="nt">♩</tspan>=112</text>
<text class="mn" x="31.5" y="-7">61</text><text class="mn" x="271.5" y="-7">62</text><text class="mn" x="511.5" y="-7">63</text><text class="mn" x="751.5" y="-7">64</text>
<text class="st" x="270.5" y="76.5"><tspan class="c1">134</tspan><tspan class="c2" x="270.5" y="90">64286</tspan><tspan class="c3" x="270.5" y="102.5">64.45%</tspan></text>
<text class="st" x="510.5" y="76.5"><tspan class="c1">136</tspan><tspan class="c2" x="510.5" y="90">65306</tspan><tspan class="c3" x="510.5" y="102.5">61.80%</tspan></text>
<text class="st" x="750.5" y="76.5"><tspan class="c1">200</tspan><tspan class="c2" x="750.5" y="90">67706</tspan><tspan class="c3" x="750.5" y="102.5">49.30%</tspan></text>
<text class="st" x="990.5" y="76.5"><tspan class="c1">200</tspan><tspan class="c2" x="990.5" y="90">70106</tspan><tspan class="c3" x="990.5" y="102.5">36.80%</tspan></text>
</g>

<g id="row17" transform="translate(0,2461.5)">
<use href="#grid"/>
<rect class="bR" x="511.5" y="11.5" width="44.5" height="7"/><rect class="bY" x="511.5" y="26.5" width="44.5" height="7"/><rect class="bR" x="571.5" y="11.5" width="104.5" height="7"/><rect class="bB" x="691.5" y="41.5" width="44.5" height="7"/><rect class="bR" x="751.5" y="11.5" width="164.5" height="7"/><rect class="bY" x="751.5" y="26.5" width="44.5" height="7"/><rect class="bO" x="931.5" y="57" width="44.5" height="7"/>
<use href="#G" x="31.5" y="0"/><use href="#G" x="61.5" y="0"/><use href="#G" x="91.5" y="0"/><use href="#G" x="121.5" y="0"/><use href="#R" x="151.5" y="15"/><use href="#R" x="181.5" y="15"/><use href="#R" x="211.5" y="15"/><use href="#R" x="241.5" y="15"/><use href="#Y" x="256.5" y="30"/>
<use href="#O" x="271.5" y="60.5"/><use href="#O" x="301.5" y="60.5"/><use href="#O" x="331.5" y="60.5"/><use href="#O" x="361.5" y="60.5"/><use href="#O" x="391.5" y="60.5"/><use href="#O" x="421.5" y="60.5"/><use href="#O" x="451.5" y="60.5"/><use href="#O" x="481.5" y="60.5"/>
<use href="#R" x="511.5" y="15"/><use href="#Y" x="511.5" y="30"/><use href="#R" x="571.5" y="15"/><use href="#B" x="691.5" y="45"/>
<use href="#sR" x="751.5" y="15"/><use href="#sY" x="751.5" y="30"/><use href="#sO" x="931.5" y="60.5"/>
<rect class="ob" x="31.5" y="-0.5" width="710" height="62"/><rect class="or" x="741.5" y="-0.5" width="10" height="62"/><rect class="og" x="751.5" y="-0.5" width="224.5" height="62"/>
<text class="tp" x="31" y="-20"><tspan class="nt">♩</tspan>=112</text><text class="tp" x="751" y="-20"><tspan class="nt">♩</tspan>=112</text>
<text class="mn" x="31.5" y="-7">65</text><text class="mn" x="271.5" y="-7">66</text><text class="mn" x="511.5" y="-7">67</text><text class="mn" x="751.5" y="-7">68</text>
<text class="st" x="270.5" y="76.5"><tspan class="c1">225</tspan><tspan class="c2" x="270.5" y="90">72806</tspan><tspan class="c3" x="270.5" y="102.5">24.30%</tspan></text>
<text class="st" x="510.5" y="76.5"><tspan class="c1">200</tspan><tspan class="c2" x="510.5" y="90">75206</tspan><tspan class="c3" x="510.5" y="102.5">11.80%</tspan></text>
<text class="st" x="750.5" y="76.5"><tspan class="c1">148</tspan><tspan class="c2" x="750.5" y="90">76982</tspan><tspan class="c3" x="750.5" y="102.5">0.00%</tspan></text>
<text class="st" x="990.5" y="76.5"><tspan class="c1">198</tspan><tspan class="c2" x="990.5" y="90">78170</tspan><tspan class="c3" x="990.5" y="102.5">36.05%</tspan></text>
</g>

<g id="row18" transform="translate(0,2602.5)">
<use href="#grid"/>
<rect class="bR" x="31.5" y="11.5" width="44.5" height="7"/><rect class="bB" x="31.5" y="41.5" width="44.5" height="7"/><rect class="bR" x="91.5" y="11.5" width="74.5" height="7"/><rect class="bB" x="211.5" y="41.5" width="44.5" height="7"/><rect class="bR" x="391.5" y="11.5" width="44.5" height="7"/><rect class="bG" x="451.5" y="-3.5" width="44.5" height="7"/><rect class="bR" x="631.5" y="11.5" width="44.5" height="7"/><rect class="bG" x="691.5" y="-3.5" width="44.5" height="7"/><rect class="bB" x="931.5" y="41.5" width="44.5" height="7"/>
<use href="#R" x="31.5" y="15"/><use href="#B" x="31.5" y="45"/><use href="#R" x="91.5" y="15"/><use href="#Y" x="181.5" y="30"/><use href="#B" x="211.5" y="45"/>
<use href="#G" x="271.5" y="0"/><use href="#O" x="301.5" y="60.5"/><use href="#B" x="331.5" y="45"/><use href="#Y" x="361.5" y="30"/><use href="#R" x="391.5" y="15"/><use href="#G" x="451.5" y="0"/>
<use href="#G" x="511.5" y="0"/><use href="#O" x="541.5" y="60.5"/><use href="#B" x="571.5" y="45"/><use href="#Y" x="601.5" y="30"/><use href="#R" x="631.5" y="15"/><use href="#G" x="691.5" y="0"/>
<use href="#B" x="751.5" y="45"/><use href="#B" x="811.5" y="45"/><use href="#B" x="871.5" y="45"/><use href="#B" x="931.5" y="45"/>
<text class="tp" x="31" y="-20"><tspan class="nt">♩</tspan>=112</text><text class="tp" x="511" y="-20"><tspan class="nt">♩</tspan>=112</text>
<text class="mn" x="31.5" y="-7">69</text><text class="mn" x="271.5" y="-7">70</text><text class="mn" x="511.5" y="-7">71</text><text class="mn" x="751.5" y="-7">72</text>
<text class="st" x="270.5" y="76.5"><tspan class="c1">167</tspan><tspan class="c2" x="270.5" y="90">79172</tspan><tspan class="c3" x="270.5" y="102.5">36.05%</tspan></text>
<text class="st" x="510.5" y="76.5"><tspan class="c1">168</tspan><tspan class="c2" x="510.5" y="90">80180</tspan><tspan class="c3" x="510.5" y="102.5">36.05%</tspan></text>
<text class="st" x="750.5" y="76.5"><tspan class="c1">168</tspan><tspan class="c2" x="750.5" y="90">81188</tspan><tspan class="c3" x="750.5" y="102.5">36.05%</tspan></text>
<text class="st" x="990.5" y="76.5"><tspan class="c1">109</tspan><tspan class="c2" x="990.5" y="90">81842</tspan><tspan class="c3" x="990.5" y="102.5">36.05%</tspan></text>
</g>

<g id="row19" transform="translate(0,2743.5)">
<rect class="oy" x="751.5" y="-10" width="180" height="82"/>
<use href="#grid"/>
<rect class="bG" x="151.5" y="-3.5" width="44.5" height="7"/><rect class="bY" x="211.5" y="26.5" width="44.5" height="7"/><rect class="bB" x="451.5" y="41.5" width="44.5" height="7"/><rect class="bG" x="691.5" y="-3.5" width="44.5" height="7"/>
<use href="#G" x="31.5" y="0"/><use href="#G" x="91.5" y="0"/><use href="#G" x="151.5" y="0"/><use href="#Y" x="211.5" y="30"/>
<use href="#R" x="271.5" y="15"/><use href="#R" x="331.5" y="15"/><use href="#R" x="391.5" y="15"/><use href="#Y" x="421.5" y="30"/><use href="#B" x="451.5" y="45"/>
<use href="#O" x="511.5" y="60.5"/><use href="#O" x="541.5" y="60.5"/><use href="#B" x="571.5" y="45"/><use href="#B" x="601.5" y="45"/><use href="#Y" x="631.5" y="30"/><use href="#Y" x="661.5" y="30"/><use href="#G" x="691.5" y="0"/>
<use href="#sB" x="751.5" y="45"/><use href="#sB" x="811.5" y="45"/><use href="#sB" x="871.5" y="45"/><use href="#sY" x="931.5" y="30"/>
<rect class="og" x="751.5" y="-0.5" width="180" height="62"/>
<text class="tp" x="31" y="-20"><tspan class="nt">♩</tspan>=112</text><text class="tp" x="751" y="-20"><tspan class="nt">♩</tspan>=112</text>
<text class="mn" x="31.5" y="-7">73</text><text class="mn" x="271.5" y="-7">74</text><text class="mn" x="511.5" y="-7">75</text><text class="mn" x="751.5" y="-7">76</text>
<text class="st" x="270.5" y="76.5"><tspan class="c1">118</tspan><tspan class="c2" x="270.5" y="90">82550</tspan><tspan class="c3" x="270.5" y="102.5">36.05%</tspan></text>
<text class="st" x="510.5" y="76.5"><tspan class="c1">134</tspan><tspan class="c2" x="510.5" y="90">83354</tspan><tspan class="c3" x="510.5" y="102.5">36.05%</tspan></text>
<text class="st" x="750.5" y="76.5"><tspan class="c1">200</tspan><tspan class="c2" x="750.5" y="90">84554</tspan><tspan class="c3" x="750.5" y="102.5">36.05%</tspan></text>
<text class="st" x="990.5" y="76.5"><tspan class="c1">100</tspan><tspan class="c2" x="990.5" y="90">85154</tspan><tspan class="c3" x="990.5" y="102.5">61.05%</tspan></text>
</g>

<g id="row20" transform="translate(0,2884.5)">
<use href="#grid"/>
<rect class="bG" x="151.5" y="-3.5" width="44.5" height="7"/><rect class="bY" x="211.5" y="26.5" width="44.5" height="7"/>
<use href="#G" x="31.5" y="0"/><use href="#G" x="91.5" y="0"/><use href="#G" x="151.5" y="0"/><use href="#Y" x="211.5" y="30"/>
<use href="#R" x="271.5" y="15"/><use href="#R" x="301.5" y="15"/><use href="#R" x="331.5" y="15"/><use href="#R" x="361.5" y="15"/><use href="#R" x="391.5" y="15"/><use href="#R" x="421.5" y="15"/><use href="#B" x="451.5" y="45"/><use href="#B" x="481.5" y="45"/>
<use href="#B" x="511.5" y="45"/><use href="#B" x="541.5" y="45"/><use href="#B" x="571.5" y="45"/><use href="#B" x="601.5" y="45"/><use href="#Y" x="631.5" y="30"/><use href="#Y" x="661.5" y="30"/><use href="#R" x="691.5" y="15"/><use href="#R" x="721.5" y="15"/>
<use href="#B" x="751.5" y="45"/><use href="#B" x="781.5" y="45"/><use href="#B" x="811.5" y="45"/><use href="#B" x="841.5" y="45"/><use href="#Y" x="871.5" y="30"/><use href="#Y" x="901.5" y="30"/><use href="#G" x="931.5" y="0"/><use href="#G" x="961.5" y="0"/>
<rect class="or" x="449" y="-0.5" width="10" height="62"/><rect class="ob" x="459" y="-0.5" width="532.5" height="62"/>
<text class="tp" x="31" y="-20"><tspan class="nt">♩</tspan>=112</text>
<text class="mn" x="31.5" y="-7">77</text><text class="mn" x="271.5" y="-7">78</text><text class="mn" x="511.5" y="-7">79</text><text class="mn" x="751.5" y="-7">80</text>
<text class="st" x="270.5" y="76.5"><tspan class="c1">118</tspan><tspan class="c2" x="270.5" y="90">85862</tspan><tspan class="c3" x="270.5" y="102.5">61.05%</tspan></text>
<text class="st" x="510.5" y="76.5"><tspan class="c1">200</tspan><tspan class="c2" x="510.5" y="90">87212</tspan><tspan class="c3" x="510.5" y="102.5">57.91%</tspan></text>
<text class="st" x="750.5" y="76.5"><tspan class="c1">200</tspan><tspan class="c2" x="750.5" y="90">89612</tspan><tspan class="c3" x="750.5" y="102.5">45.41%</tspan></text>
<text class="st" x="990.5" y="76.5"><tspan class="c1">200</tspan><tspan class="c2" x="990.5" y="90">92012</tspan><tspan class="c3" x="990.5" y="102.5">32.91%</tspan></text>
</g>

<g id="row21" transform="translate(0,3025.5)">
<use href="#grid"/>
<use href="#R" x="31.5" y="15"/><use href="#R" x="61.5" y="15"/><use href="#R" x="91.5" y="15"/><use href="#R" x="121.5" y="15"/><use href="#O" x="151.5" y="60.5"/><use href="#Y" x="181.5" y="30"/><use href="#Y" x="211.5" y="30"/><use href="#G" x="241.5" y="0"/>
<use href="#G" x="271.5" y="0"/><use href="#Y" x="301.5" y="30"/><use href="#Y" x="331.5" y="30"/><use href="#Y" x="361.5" y="30"/><use href="#Y" x="391.5" y="30"/><use href="#Y" x="421.5" y="30"/><use href="#Y" x="451.5" y="30"/><use href="#Y" x="481.5" y="30"/><use href="#O" x="466.5" y="60.5"/>
<use href="#B" x="511.5" y="45"/><use href="#B" x="541.5" y="45"/><use href="#Y" x="571.5" y="30"/><use href="#Y" x="601.5" y="30"/><use href="#Y" x="631.5" y="30"/><use href="#Y" x="661.5" y="30"/><use href="#R" x="691.5" y="15"/><use href="#R" x="721.5" y="15"/><use href="#B" x="736.5" y="45"/>
<use href="#R" x="751.5" y="15"/><use href="#R" x="781.5" y="15"/><use href="#R" x="811.5" y="15"/><use href="#R" x="841.5" y="15"/><use href="#R" x="871.5" y="15"/><use href="#O" x="901.5" y="60.5"/><use href="#O" x="931.5" y="60.5"/><use href="#G" x="961.5" y="0"/>
<rect class="ob" x="31.5" y="-0.5" width="960" height="62"/>
<text class="tp" x="31" y="-20"><tspan class="nt">♩</tspan>=112</text>
<text class="mn" x="31.5" y="-7">81</text><text class="mn" x="271.5" y="-7">82</text><text class="mn" x="511.5" y="-7">83</text><text class="mn" x="751.5" y="-7">84</text>
<text class="st" x="270.5" y="76.5"><tspan class="c1">200</tspan><tspan class="c2" x="270.5" y="90">94412</tspan><tspan class="c3" x="270.5" y="102.5">20.41%</tspan></text>
<text class="st" x="510.5" y="76.5"><tspan class="c1">225</tspan><tspan class="c2" x="510.5" y="90">97112</tspan><tspan class="c3" x="510.5" y="102.5">7.91%</tspan></text>
<text class="st" x="750.5" y="76.5"><tspan class="c1">225</tspan><tspan class="c2" x="750.5" y="90">99812</tspan><tspan class="c3" x="750.5" y="102.5">0.00%</tspan></text>
<text class="st" x="990.5" y="76.5"><tspan class="c1">200</tspan><tspan class="c2" x="990.5" y="90">102212</tspan><tspan class="c3" x="990.5" y="102.5">0.00%</tspan></text>
</g>

<g id="row22" transform="translate(0,3166.5)">
<use href="#grid"/>
<rect class="bG" x="751.5" y="-3.5" width="90" height="7"/>
<use href="#G" x="31.5" y="0"/><use href="#G" x="61.5" y="0"/><use href="#G" x="91.5" y="0"/><use href="#G" x="121.5" y="0"/><use href="#G" x="151.5" y="0"/><use href="#G" x="181.5" y="0"/><use href="#B" x="211.5" y="45"/><use href="#B" x="241.5" y="45"/>
<use href="#R" x="271.5" y="15"/><use href="#R" x="301.5" y="15"/><use href="#R" x="331.5" y="15"/><use href="#R" x="361.5" y="15"/><use href="#R" x="391.5" y="15"/><use href="#Y" x="421.5" y="30"/><use href="#Y" x="451.5" y="30"/><use href="#Y" x="481.5" y="30"/>
<use href="#O" x="511.5" y="60.5"/><use href="#O" x="541.5" y="60.5"/><use href="#Y" x="571.5" y="30"/><use href="#Y" x="601.5" y="30"/><use href="#R" x="631.5" y="15"/><use href="#R" x="661.5" y="15"/><use href="#R" x="691.5" y="15"/><use href="#G" x="721.5" y="0"/>
<use href="#G" x="751.5" y="0"/>
<rect class="ob" x="31.5" y="-0.5" width="150" height="62"/>
<text class="tp" x="31" y="-20"><tspan class="nt">♩</tspan>=112</text><text class="tp" x="511" y="-20"><tspan class="nt">♩</tspan>=112</text>
<text class="mn" x="31.5" y="-7">85</text><text class="mn" x="271.5" y="-7">86</text><text class="mn" x="511.5" y="-7">87</text><text class="mn" x="751.5" y="-7">88</text>
<text class="st" x="270.5" y="76.5"><tspan class="c1">200</tspan><tspan class="c2" x="270.5" y="90">104312</tspan><tspan class="c3" x="270.5" y="102.5">0.00%</tspan></text>
<text class="st" x="510.5" y="76.5"><tspan class="c1">200</tspan><tspan class="c2" x="510.5" y="90">105512</tspan><tspan class="c3" x="510.5" y="102.5">0.00%</tspan></text>
<text class="st" x="750.5" y="76.5"><tspan class="c1">200</tspan><tspan class="c2" x="750.5" y="90">106712</tspan><tspan class="c3" x="750.5" y="102.5">0.00%</tspan></text>
<text class="st" x="990.5" y="76.5"><tspan class="c1">43</tspan><tspan class="c2" x="990.5" y="90">106970</tspan><tspan class="c3" x="990.5" y="102.5">0.00%</tspan></text>
</g>
<g id="connectors"/>
</svg>
